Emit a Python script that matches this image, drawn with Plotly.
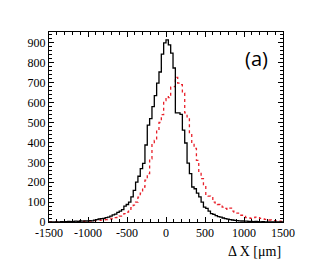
import numpy as np
import plotly.graph_objects as go

# histogram binning: 100 bins of 30 um from -1500 to 1500
bin_lo = -1500
bin_width = 30

black_counts = [
    0, 0, 1, 0, 1, 2, 1, 2, 3, 2,
    3, 4, 3, 5, 4, 6, 5, 7, 6, 9,
    12, 15, 17, 18, 22, 25, 30, 36, 40, 48,
    55, 62, 80, 88, 100, 126, 159, 200, 230, 268,
    295, 387, 487, 520, 580, 635, 698, 754, 844, 900,
    915, 890, 849, 774, 548, 548, 541, 462, 397, 296,
    243, 176, 167, 145, 126, 100, 75, 68, 55, 42,
    38, 32, 27, 25, 20, 17, 14, 12, 10, 8,
    7, 6, 5, 4, 4, 3, 3, 2, 3, 2,
    1, 2, 1, 1, 0, 1, 0, 1, 0, 0,
]

red_counts = [
    0, 0, 0, 1, 0, 1, 1, 2, 1, 2,
    2, 3, 2, 3, 4, 3, 5, 4, 6, 7,
    7, 8, 9, 11, 12, 14, 16, 19, 22, 26,
    30, 35, 42, 50, 58, 72, 85, 100, 125, 145,
    176, 210, 243, 318, 395, 410, 460, 500, 540, 610,
    630, 625, 678, 680, 727, 698, 690, 648, 548, 528,
    445, 400, 370, 310, 250, 218, 184, 134, 130, 126,
    100, 95, 88, 84, 75, 68, 64, 70, 55, 50,
    45, 38, 34, 28, 22, 20, 18, 22, 25, 22,
    18, 16, 13, 12, 10, 8, 7, 5, 4, 3,
]

x_ticks = [-1500, -1000, -500, 0, 500, 1000, 1500]
y_ticks = [0, 100, 200, 300, 400, 500, 600, 700, 800, 900]

edges = bin_lo + bin_width * np.arange(len(black_counts) + 1)


def step(counts):
    return list(edges), list(counts) + [counts[-1]]


fig = go.Figure()
bx, by = step(red_counts)
fig.add_trace(go.Scatter(x=bx, y=by, mode="lines", line_shape="hv",
                         line=dict(color="#e8202a", width=1.3, dash="dot"),
                         showlegend=False))
bx, by = step(black_counts)
fig.add_trace(go.Scatter(x=bx, y=by, mode="lines", line_shape="hv",
                         line=dict(color="black", width=1.3),
                         showlegend=False))

serif = "Liberation Serif, Times New Roman, serif"
fig.update_layout(
    width=332, height=263,
    margin=dict(l=41, r=57, t=24, b=49, autoexpand=False),
    paper_bgcolor="white", plot_bgcolor="white",
    font=dict(family=serif, size=12, color="black"),
    xaxis=dict(range=[-1500, 1500], tickvals=x_ticks,
               ticktext=[str(v) for v in x_ticks],
               ticks="inside", ticklen=5, tickcolor="black", tickwidth=1,
               showline=True, linecolor="black", linewidth=1, mirror="ticks",
               showgrid=False, zeroline=False,
               minor=dict(dtick=100, tick0=0, ticks="inside", ticklen=3,
                          tickcolor="black", showgrid=False),
               tickfont=dict(family=serif, size=12)),
    yaxis=dict(range=[0, 955], tickvals=y_ticks,
               ticktext=[str(v) for v in y_ticks],
               ticks="inside", ticklen=5, tickcolor="black", tickwidth=1,
               showline=True, linecolor="black", linewidth=1, mirror="ticks",
               showgrid=False, zeroline=False,
               minor=dict(dtick=20, tick0=0, ticks="inside", ticklen=3,
                          tickcolor="black", showgrid=False),
               tickfont=dict(family=serif, size=12)),
    annotations=[
        dict(text="(a)", x=(256 - 49) / 234, y=(222 - 58) / 190,
             xref="paper", yref="paper", xanchor="center", yanchor="middle",
             showarrow=False, font=dict(family="Open Sans, sans-serif", size=20)),
        dict(text="Δ X [μm]", x=1.0, y=0, xref="paper", yref="paper",
             xanchor="right", yanchor="top", yshift=-20, showarrow=False,
             font=dict(family=serif, size=14)),
    ],
)

fig.write_html("out.html")
